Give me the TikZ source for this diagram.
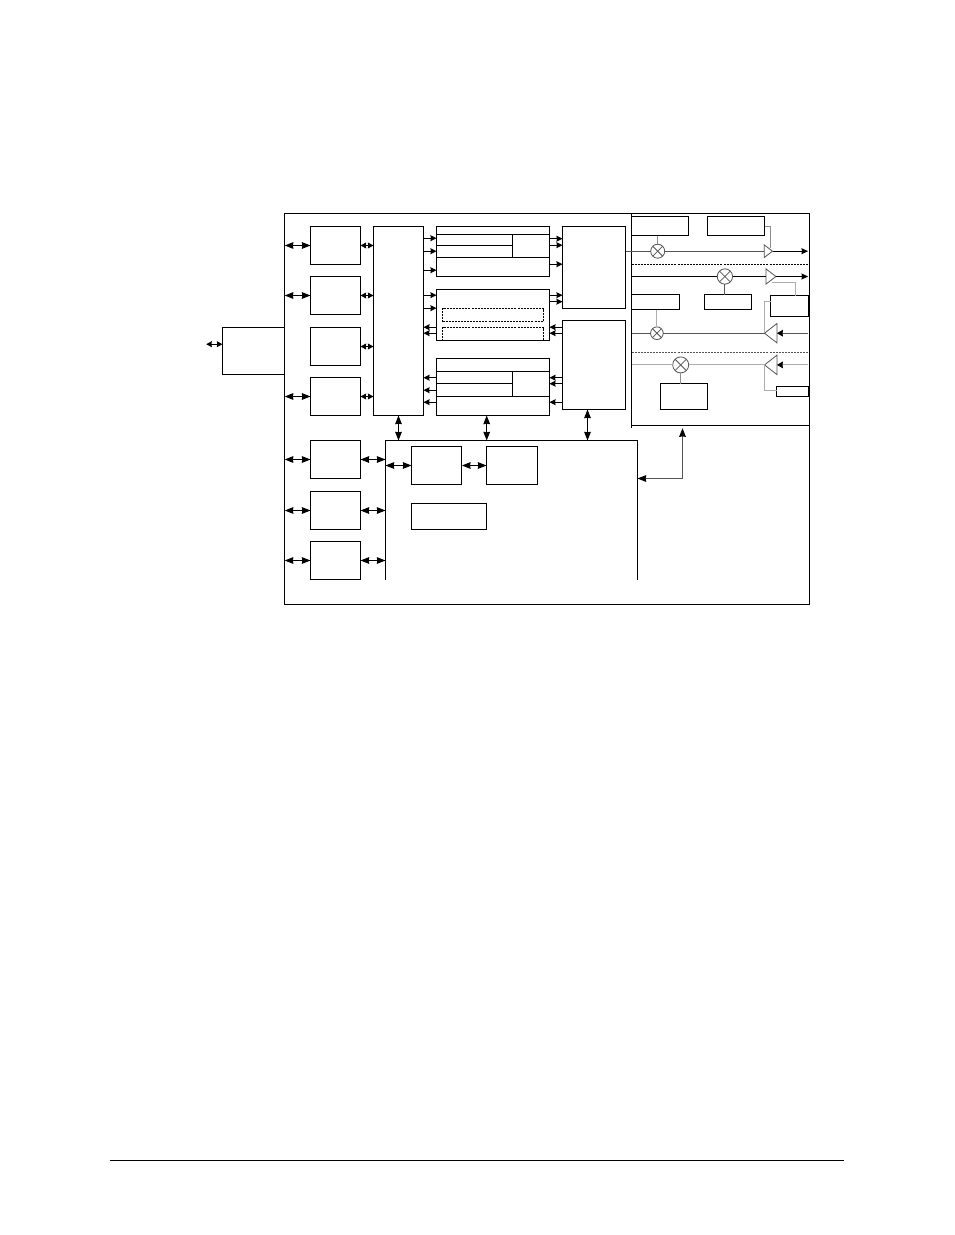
\documentclass[tikz,border=0pt]{standalone}
\usepackage{tikz}
\usetikzlibrary{arrows.meta, shapes.geometric, calc}
\definecolor{RfDark}{rgb}{0.33,0.33,0.33}
\definecolor{RfMid}{rgb}{0.55,0.55,0.55}
\definecolor{RfLight}{rgb}{0.68,0.68,0.68}
\tikzset{
    blk/.style={draw=black,fill=white,line width=0.8pt,inner sep=0pt,outer sep=0pt},
    hollow/.style={draw=none,inner sep=0pt,outer sep=0pt},
    dashblk/.style={draw=black,line width=0.8pt,inner sep=0pt,outer sep=0pt,dash pattern=on 1.5pt off 0.8pt},
    wire/.style={line width=0.8pt,black},
    bus/.style={wire,{Stealth[length=6.5pt,width=5pt,inset=0.4pt]}-{Stealth[length=6.5pt,width=5pt,inset=0.4pt]}},
    smallbus/.style={wire,{Stealth[length=4.2pt,width=4.4pt,inset=0.3pt]}-{Stealth[length=4.2pt,width=4.4pt,inset=0.3pt]}},
    tap/.style={wire,-{Stealth[length=4.5pt,width=4.4pt,inset=0.3pt]}},
    mixer/.style={circle,draw=RfDark,fill=white,line width=0.6pt,inner sep=0pt,outer sep=0pt,
        path picture={
            \draw[RfDark,line width=0.6pt] (path picture bounding box.north west) -- (path picture bounding box.south east);
            \draw[RfDark,line width=0.6pt] (path picture bounding box.north east) -- (path picture bounding box.south west);
        }},
    amp/.style={isosceles triangle,isosceles triangle stretches,anchor=apex,draw=RfDark,fill=white,line width=0.6pt,inner sep=0pt,outer sep=0pt},
    rfline/.style={line width=0.8pt,RfDark},
    rfin/.style={line width=0.8pt,RfDark,-{Stealth[length=4.5pt,width=5pt,inset=0.3pt,color=black]}},
}
% box from its corners: style, name, left, top, right, bottom
\newcommand{\blkat}[6]{\node[#1,minimum width={(#5-#3)*0.75pt},minimum height={(#6-#4)*0.75pt}] (#2) at ({(#3+#5)/2},{(#4+#6)/2}) {};}
\begin{document}
\begin{tikzpicture}[x=0.75pt,y=-0.75pt]

    \useasboundingbox (-0.2,-0.2) rectangle (953.8,1234.8);

    % outer frame and interface block
    \blkat{blk}{main}{284.5}{213.3}{809.3}{604.3}
    \blkat{blk}{iface}{222.3}{327.3}{284.5}{374.3}
    \coordinate (ifacefree) at (206,344);
    \draw[smallbus] (ifacefree) -- (iface.west |- ifacefree);

    % left column
    \blkat{blk}{porta}{310.3}{226.3}{360.3}{264.3}
    \blkat{blk}{portb}{310.3}{276.3}{360.3}{314.3}
    \blkat{blk}{portc}{310.3}{327.3}{360.3}{365.3}
    \blkat{blk}{portd}{310.3}{377.3}{360.3}{415.3}
    \blkat{blk}{porte}{310.3}{440.3}{360.3}{478.3}
    \blkat{blk}{portf}{310.3}{491.3}{360.3}{529.3}
    \blkat{blk}{portg}{310.3}{541.3}{360.3}{579.3}

    % switch
    \blkat{blk}{switch}{373.3}{226.3}{423.3}{415.3}

    % first channel
    \blkat{blk}{txa}{436.3}{226.3}{549.3}{276.3}
    \blkat{blk}{txacella}{436.3}{234.3}{512.3}{245.3}
    \blkat{blk}{txacellb}{436.3}{245.3}{512.3}{257.3}
    \blkat{blk}{txacellc}{512.3}{234.3}{549.3}{257.3}

    % second channel
    \blkat{blk}{mid}{436.3}{289.3}{549.3}{340.3}
    \blkat{dashblk}{midin}{442.3}{308.3}{543.3}{321.3}
    \blkat{dashblk}{midout}{442.3}{327.3}{543.3}{340.3}

    % third channel
    \blkat{blk}{rxa}{436.3}{358.3}{549.3}{415.3}
    \blkat{blk}{rxacella}{436.3}{371.3}{512.3}{383.3}
    \blkat{blk}{rxacellb}{436.3}{383.3}{512.3}{396.3}
    \blkat{blk}{rxacellc}{512.3}{371.3}{549.3}{396.3}

    % converters
    \blkat{blk}{dac}{562.3}{226.3}{625.3}{308.3}
    \blkat{blk}{adc}{562.3}{320.3}{625.3}{409.3}

    % control block, open at the bottom
    \blkat{hollow}{ctrl}{385.3}{440.3}{637.3}{579.3}
    \draw[wire] (ctrl.south west) -- (ctrl.north west) -- (ctrl.north east) -- (ctrl.south east);
    \blkat{blk}{cpu}{411.3}{446.3}{461.7}{484.3}
    \blkat{blk}{mem}{486.3}{446.3}{537.7}{484.3}
    \blkat{blk}{clk}{411.3}{503.3}{486.3}{529.3}

    % RF panel
    \blkat{hollow}{rf}{631.3}{213.3}{809.3}{425.3}
    \coordinate (rftick) at (631.3,428);
    \draw[wire] (rf.north west) -- (rftick);
    \draw[wire] (rf.south west) -- (rf.south east);

    % buses on the left column
    \foreach \n in {a,b,d,e,f,g}
        \draw[bus] (main.west |- port\n.west) -- (port\n.west);
    \foreach \n in {a,b,c,d}
        \draw[smallbus] (port\n.east) -- (switch.west |- port\n.east);
    \foreach \n in {e,f,g}
        \draw[bus] (port\n.east) -- (ctrl.west |- port\n.east);
    \draw[bus] (ctrl.west |- cpu.west) -- (cpu.west);
    \draw[bus] (cpu.east) -- (mem.west);

    % switch to channels
    \foreach \y in {238,251,270}
        \draw[tap] (switch.east |- 0,\y) -- (txa.west |- 0,\y);
    \foreach \y in {295,308}
        \draw[tap] (switch.east |- 0,\y) -- (mid.west |- 0,\y);
    \foreach \y in {327,333}
        \draw[tap] (mid.west |- 0,\y) -- (switch.east |- 0,\y);
    \foreach \y in {377.5,390,402}
        \draw[tap] (rxa.west |- 0,\y) -- (switch.east |- 0,\y);

    % channels to converters
    \foreach \y in {238.5,245,264}
        \draw[tap] (txa.east |- 0,\y) -- (dac.west |- 0,\y);
    \foreach \y in {295,301.5}
        \draw[tap] (mid.east |- 0,\y) -- (dac.west |- 0,\y);
    \foreach \y in {327,333}
        \draw[tap] (adc.west |- 0,\y) -- (mid.east |- 0,\y);
    \foreach \y in {377.5,383.5,402}
        \draw[tap] (adc.west |- 0,\y) -- (rxa.east |- 0,\y);

    % buses down to control
    \draw[bus] (switch.south -| 398.3,0) -- (ctrl.north -| 398.3,0);
    \draw[bus] (rxa.south -| 486.5,0) -- (ctrl.north -| 486.5,0);
    \draw[bus] (adc.south -| 587.3,0) -- (ctrl.north -| 587.3,0);
    \coordinate (rfbend) at (682.3,478.3);
    \coordinate (rffoot) at (682.3,428);
    \draw[line width=0.8pt,RfDark,{Stealth[length=6.5pt,width=5pt,inset=0.4pt,color=black]}-{Stealth[length=6.5pt,width=5pt,inset=0.4pt,color=black]}] (ctrl.east |- rfbend) -- (rfbend) -- (rffoot);

    % RF blocks
    \blkat{blk}{loa}{631.3}{216.7}{688.3}{235.3}
    \blkat{blk}{pwra}{707.3}{216.7}{764.7}{235.3}
    \blkat{blk}{lob}{704.3}{294.3}{751.3}{309.3}
    \blkat{blk}{loc}{631.3}{294.3}{679.3}{309.3}
    \blkat{blk}{pwrb}{770.3}{295.3}{808.7}{316.3}
    \blkat{blk}{lod}{660.3}{383.3}{707.7}{409.3}
    \blkat{blk}{pwrc}{776.3}{386.3}{808.7}{396.3}

    % mixers
    \node[mixer,minimum size=10.5pt] (mixa) at (657.5,251) {};
    \node[mixer,minimum size=11.5pt] (mixb) at (724.7,276.3) {};
    \node[mixer,minimum size=9.5pt] (mixc) at (656.7,333) {};
    \node[mixer,minimum size=12pt] (mixd) at (680.5,364.7) {};

    % amplifiers
    \node[amp,minimum height=6.2pt,minimum width=9.5pt] (ampa) at (772.3,251) {};
    \node[amp,minimum height=7.5pt,minimum width=11.5pt] (ampb) at (775.7,276.3) {};
    \node[amp,shape border rotate=180,minimum height=9.3pt,minimum width=14.5pt] (ampc) at (764.3,333) {};
    \node[amp,shape border rotate=180,minimum height=9.3pt,minimum width=14.5pt] (ampd) at (764.3,364.7) {};

    % signal lines
    \draw[rfline] (dac.east |- mixa) -- (mixa.west);
    \draw[rfline] (mixa.east) -- (ampa.west);
    \coordinate (outa) at (808,251);
    \draw[wire,-{Stealth[length=5pt,width=4.4pt,inset=0.3pt]}] (ampa.apex) -- (outa);
    \draw[wire] (rf.west |- mixb) -- (mixb.west);
    \draw[wire] (mixb.east) -- (ampb.west);
    \coordinate (outb) at (808,276.3);
    \draw[wire,-{Stealth[length=5pt,width=4.4pt,inset=0.3pt]}] (ampb.apex) -- (outb);
    \draw[rfline] (rf.west |- mixc) -- (mixc.west);
    \draw[rfline] (mixc.east) -- (ampc.apex);
    \coordinate (inc) at (808,333);
    \draw[rfin] (inc) -- (ampc.east);
    \draw[rfline,RfLight] (rf.west |- mixd) -- (mixd.west);
    \draw[rfline,RfLight] (mixd.east) -- (ampd.apex);
    \coordinate (ind) at (808,364.7);
    \draw[rfin,RfLight] (ind) -- (ampd.east);

    % dashed separators
    \coordinate (sepa) at (808,264.3);
    \coordinate (sepb) at (808,352);
    \draw[line width=0.8pt,dash pattern=on 1.5pt off 0.8pt] (rf.west |- sepa) -- (sepa);
    \draw[line width=0.8pt,RfDark,dash pattern=on 1.5pt off 0.8pt] (rf.west |- sepb) -- (sepb);

    % oscillator and bias feeds
    \draw[rfline,RfMid] (loa.south -| mixa) -- (mixa.north);
    \draw[rfline] (lob.north -| mixb) -- (mixb.south);
    \draw[rfline,RfLight] (loc.south -| mixc) -- (mixc.north);
    \draw[rfline,RfMid] (lod.north -| mixd) -- (mixd.south);
    \coordinate (feeda) at (770.3,248);
    \coordinate (feedb) at (795.7,282.7);
    \coordinate (feedbamp) at (772,282.7);
    \coordinate (feedc) at (764.3,301.7);
    \coordinate (feedd) at (764.3,390);
    \draw[rfline,RfMid] (pwra.east |- 0,226) -| (feeda);
    \draw[rfline,RfLight] (feedbamp) -- (feedb) -- (pwrb.north -| feedb);
    \draw[rfline,RfLight] (pwrb.west |- feedc) -- (feedc) -- (ampc.apex);
    \draw[rfline,RfLight] (ampd.apex) -- (feedd) -- (pwrc.west |- feedd);

    % footer rule
    \coordinate (rulea) at (110,1160.3);
    \coordinate (ruleb) at (844,1160.3);
    \draw[wire] (rulea) -- (ruleb);

\end{tikzpicture}
\end{document}
